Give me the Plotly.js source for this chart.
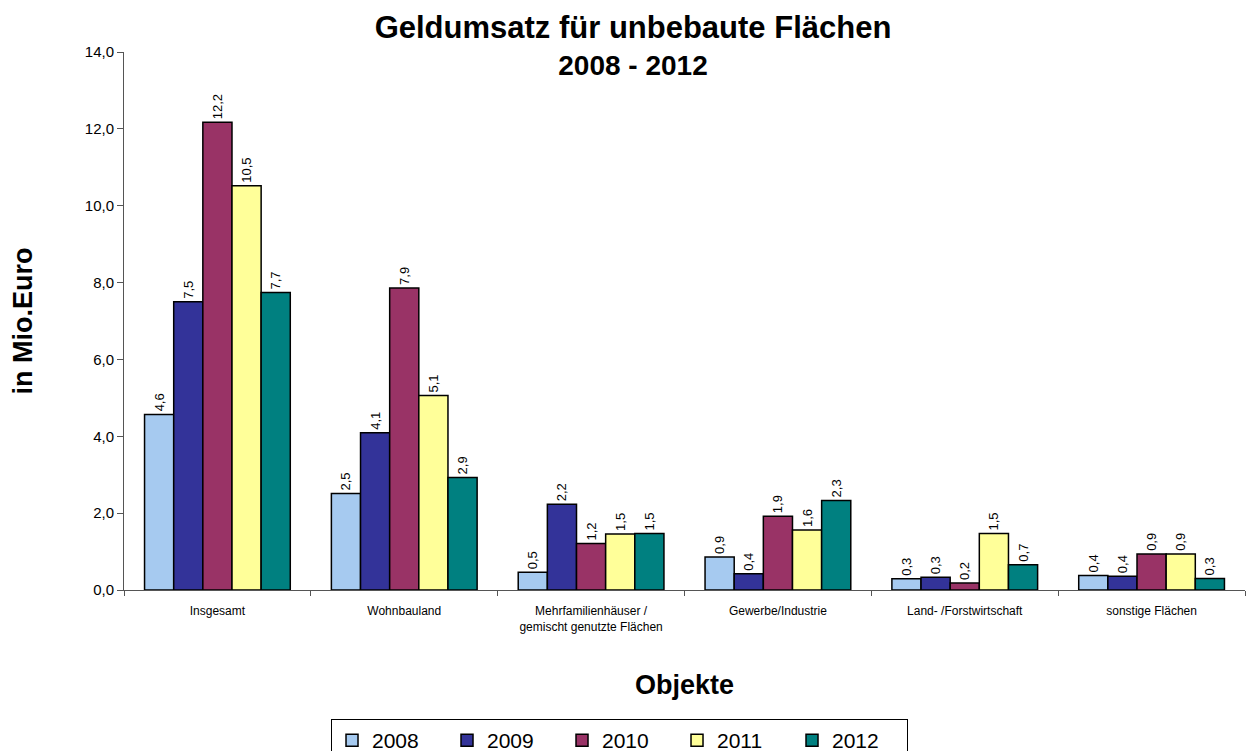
<!DOCTYPE html>
<html>
<head>
<meta charset="utf-8">
<script src="https://cdn.plot.ly/plotly-3.0.1.min.js"></script>
<style>html,body{margin:0;padding:0;background:#fff;}#chart{width:1251px;height:751px;}</style>
</head>
<body>
<div id="chart"></div>
<script>
const categories = ["Insgesamt", "Wohnbauland", "Mehrfamilienhäuser /<br>gemischt genutzte Flächen", "Gewerbe/Industrie", "Land- /Forstwirtschaft", "sonstige Flächen"];
const years = ["2008", "2009", "2010", "2011", "2012"];
const v2008 = [4.57, 2.51, 0.46, 0.86, 0.29, 0.38];
const v2009 = [7.50, 4.09, 2.23, 0.42, 0.33, 0.36];
const v2010 = [12.17, 7.86, 1.21, 1.92, 0.18, 0.94];
const v2011 = [10.52, 5.06, 1.46, 1.56, 1.47, 0.94];
const v2012 = [7.74, 2.93, 1.47, 2.33, 0.66, 0.30];
const colors = ["#A6CAF0", "#333399", "#993366", "#FFFF99", "#008080"];

const FONT = 'Arial, "Liberation Sans", sans-serif';
const series = [v2008, v2009, v2010, v2011, v2012];
const traces = series.map((vals, i) => ({
  type: 'bar',
  name: years[i],
  x: categories,
  y: vals,
  marker: {color: colors[i], line: {color: '#000', width: 1.5}},
  texttemplate: '%{y:.1f}',
  textposition: 'outside',
  textangle: -90,
  constraintext: 'none',
  cliponaxis: false,
  textfont: {family: FONT, size: 13, color: '#000'},
  hoverinfo: 'none'
}));

const layout = {
  width: 1251, height: 751,
  separators: ',.',
  paper_bgcolor: '#fff', plot_bgcolor: '#fff',
  margin: {l: 124, r: 6, t: 52, b: 161, autoexpand: false},
  barmode: 'group',
  bargap: 0.22, bargroupgap: 0,
  font: {family: FONT, color: '#000'},
  title: {
    text: '<b><span style="font-size:31px">Geldumsatz für unbebaute Flächen</span><br><span style="font-size:28px">2008 - 2012</span></b>',
    x: 0.506, xanchor: 'center', xref: 'container',
    y: 0.95, yanchor: 'top', yref: 'container',
    font: {size: 29, family: FONT, color: '#000'}
  },
  xaxis: {
    type: 'category',
    automargin: false,
    tickson: 'boundaries',
    ticks: 'outside', ticklen: 5, tickcolor: '#555',
    showline: true, linecolor: '#555', linewidth: 1,
    showgrid: false, zeroline: false,
    tickfont: {size: 12},
    ticklabelstandoff: 10,
    tickangle: 0,
    title: {text: '<b>Objekte</b>', font: {size: 27}, standoff: 42}
  },
  yaxis: {
    range: [0, 14], dtick: 2, tickformat: '.1f',
    automargin: false,
    ticks: 'outside', ticklen: 6, tickcolor: '#555',
    showline: true, linecolor: '#555', linewidth: 1,
    showgrid: false, zeroline: false,
    tickfont: {size: 15},
    title: {text: '<b>in Mio.Euro</b>', font: {size: 27}, standoff: 44}
  },
  legend: {
    orientation: 'h', xref: 'container', yref: 'container',
    x: 0.2646, xanchor: 'left', y: 1 - 719/751, yanchor: 'top',
    bordercolor: '#000', borderwidth: 1,
    font: {size: 21},
    itemwidth: 30,
    entrywidth: 70,
    traceorder: 'normal'
  },
  showlegend: true
};

Plotly.newPlot('chart', traces, layout, {displayModeBar: false, staticPlot: true});
</script>
</body>
</html>
